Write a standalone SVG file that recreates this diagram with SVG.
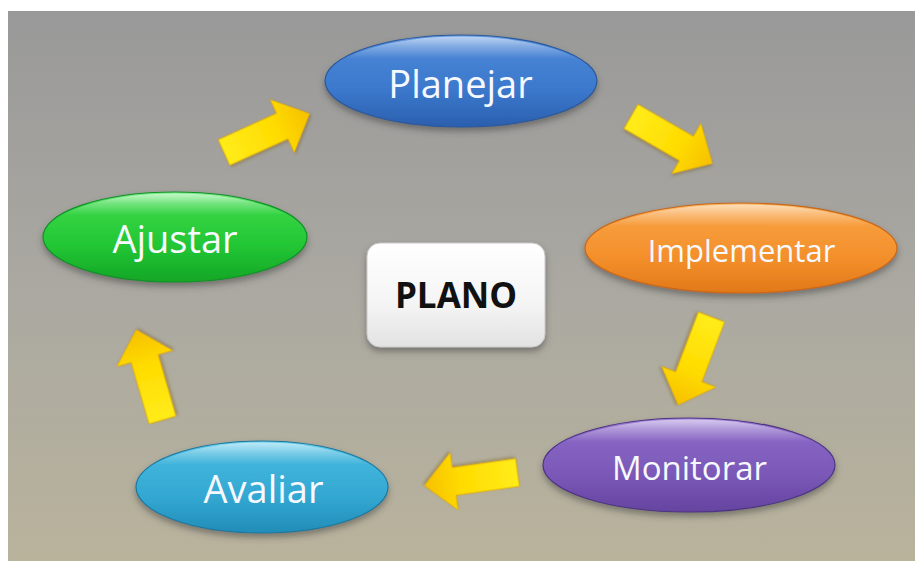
<svg xmlns="http://www.w3.org/2000/svg" width="915" height="561" viewBox="0 0 915 561">
  <defs>
    <linearGradient id="bg" x1="0" y1="0" x2="0" y2="1">
      <stop offset="0" stop-color="#999999"/>
      <stop offset="0.5" stop-color="#aaa8a1"/>
      <stop offset="1" stop-color="#b9b39c"/>
    </linearGradient>
    <linearGradient id="gBlue" x1="0" y1="0" x2="0" y2="1">
      <stop offset="0" stop-color="#6a9ee2"/>
      <stop offset="0.12" stop-color="#4a86d6"/>
      <stop offset="0.6" stop-color="#3b78cc"/>
      <stop offset="1" stop-color="#2b5fae"/>
    </linearGradient>
    <linearGradient id="gOrange" x1="0" y1="0" x2="0" y2="1">
      <stop offset="0" stop-color="#fbb764"/>
      <stop offset="0.12" stop-color="#f8a040"/>
      <stop offset="0.6" stop-color="#f4902c"/>
      <stop offset="1" stop-color="#e27818"/>
    </linearGradient>
    <linearGradient id="gPurple" x1="0" y1="0" x2="0" y2="1">
      <stop offset="0" stop-color="#a486dc"/>
      <stop offset="0.12" stop-color="#8a68c6"/>
      <stop offset="0.6" stop-color="#7b58b8"/>
      <stop offset="1" stop-color="#6544a0"/>
    </linearGradient>
    <linearGradient id="gCyan" x1="0" y1="0" x2="0" y2="1">
      <stop offset="0" stop-color="#6cd0ee"/>
      <stop offset="0.12" stop-color="#44b8de"/>
      <stop offset="0.6" stop-color="#33a8d2"/>
      <stop offset="1" stop-color="#218db8"/>
    </linearGradient>
    <linearGradient id="gGreen" x1="0" y1="0" x2="0" y2="1">
      <stop offset="0" stop-color="#7ef08a"/>
      <stop offset="0.12" stop-color="#3ad848"/>
      <stop offset="0.6" stop-color="#22c634"/>
      <stop offset="1" stop-color="#14a626"/>
    </linearGradient>
    <linearGradient id="gWhite" x1="0" y1="0" x2="0" y2="1">
      <stop offset="0" stop-color="#ffffff"/>
      <stop offset="0.6" stop-color="#f4f4f4"/>
      <stop offset="1" stop-color="#e2e2e2"/>
    </linearGradient>
    <linearGradient id="gArrow" x1="0" y1="0" x2="1" y2="0">
      <stop offset="0" stop-color="#ffec1a"/>
      <stop offset="0.6" stop-color="#ffdc00"/>
      <stop offset="1" stop-color="#f6c000"/>
    </linearGradient>
    <linearGradient id="gloss" x1="0" y1="0" x2="0" y2="1">
      <stop offset="0" stop-color="#ffffff" stop-opacity="0.55"/>
      <stop offset="0.25" stop-color="#ffffff" stop-opacity="0"/>
    </linearGradient>
    <filter id="shadow" x="-20%" y="-30%" width="140%" height="170%">
      <feDropShadow dx="0" dy="4" stdDeviation="3" flood-color="#3a3a3a" flood-opacity="0.5"/>
    </filter>
    <filter id="ashadow" x="-30%" y="-60%" width="160%" height="220%">
      <feDropShadow dx="1" dy="2" stdDeviation="1.5" flood-color="#7a6020" flood-opacity="0.45"/>
    </filter>
    <path id="arrow" d="M0,-14 L64,-14 L64,-29 L94,0 L64,29 L64,14 L0,14 Z"/>
  </defs>
  <style>
    .lbl { font-family: "Open Sans", "DejaVu Sans", sans-serif; fill: #f6f9ff; text-anchor: middle; }
    .plano { font-family: "Open Sans", "Liberation Sans", sans-serif; font-weight: bold; fill: #111111; text-anchor: middle; }
    .arr { fill: url(#gArrow); stroke: #e2aa00; stroke-width: 0.8; filter: url(#ashadow); }
    .node { filter: url(#shadow); }
    .gl { fill: url(#gloss); }
  </style>

  <rect x="0" y="0" width="915" height="561" fill="#ffffff"/>
  <rect x="8" y="11" width="907" height="550" fill="url(#bg)"/>

  <g id="connectors">
    <use href="#arrow" class="arr" transform="translate(224,152.5) rotate(-24.4)"/>
    <use href="#arrow" class="arr" transform="translate(631,116.5) rotate(30)"/>
    <use href="#arrow" class="arr" transform="translate(711.5,317) rotate(110.8)"/>
    <use href="#arrow" class="arr" transform="translate(517.5,472.5) rotate(172)"/>
    <use href="#arrow" class="arr" transform="translate(162.5,420) rotate(-106.2)"/>
  </g>

  <g id="planejar">
    <ellipse class="node" cx="461" cy="81" rx="136" ry="46" fill="url(#gBlue)" stroke="#2a589c" stroke-width="1.2"/>
    <ellipse class="gl" cx="461" cy="81" rx="134" ry="44.5"/>
    <text class="lbl" x="460.5" y="98" font-size="38">Planejar</text>
  </g>

  <g id="implementar">
    <ellipse class="node" cx="741" cy="248" rx="156" ry="45" fill="url(#gOrange)" stroke="#c8681a" stroke-width="1.2"/>
    <ellipse class="gl" cx="741" cy="248" rx="154" ry="43.5"/>
    <text class="lbl" x="741.5" y="262" font-size="31">Implementar</text>
  </g>

  <g id="monitorar">
    <ellipse class="node" cx="689" cy="465" rx="146" ry="47" fill="url(#gPurple)" stroke="#4e3484" stroke-width="1.2"/>
    <ellipse class="gl" cx="689" cy="465" rx="144" ry="45.5"/>
    <text class="lbl" x="689.5" y="480" font-size="33">Monitorar</text>
  </g>

  <g id="avaliar">
    <ellipse class="node" cx="262" cy="487" rx="126" ry="46" fill="url(#gCyan)" stroke="#1a78a0" stroke-width="1.2"/>
    <ellipse class="gl" cx="262" cy="487" rx="124" ry="44.5"/>
    <text class="lbl" x="263.5" y="503" font-size="38">Avaliar</text>
  </g>

  <g id="ajustar">
    <ellipse class="node" cx="175" cy="237" rx="132" ry="45" fill="url(#gGreen)" stroke="#12902a" stroke-width="1.2"/>
    <ellipse class="gl" cx="175" cy="237" rx="130" ry="43.5"/>
    <text class="lbl" x="175" y="253" font-size="38">Ajustar</text>
  </g>

  <g id="plano">
    <rect class="node" x="367" y="243" width="178" height="104" rx="13" fill="url(#gWhite)" stroke="#c8c8c8" stroke-width="1"/>
    <text class="plano" x="456" y="308" font-size="35">PLANO</text>
  </g>
</svg>
